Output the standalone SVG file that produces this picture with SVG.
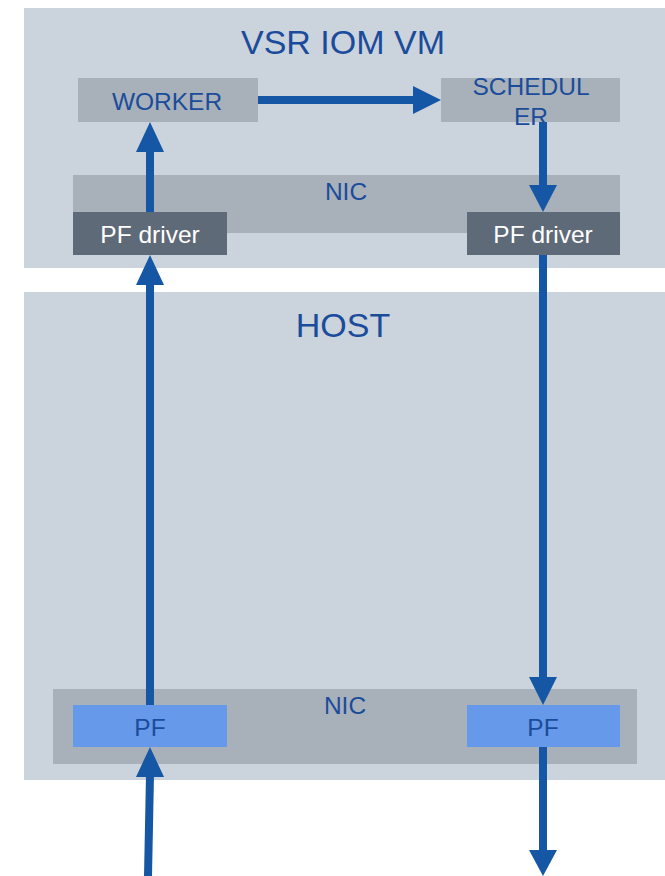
<svg xmlns="http://www.w3.org/2000/svg" width="665" height="876" viewBox="0 0 665 876">
<defs>
<style>
.bg{fill:#cbd3dc}
.box{fill:#a8b1ba}
.drv{fill:#5f6a78}
.pf{fill:#6699e9}
.t{font-family:"Liberation Sans",Arial,sans-serif;fill:#1b4c9b;text-anchor:middle;font-size:24.5px}
.big{font-size:34px}
.tw{font-family:"Liberation Sans",Arial,sans-serif;fill:#ffffff;text-anchor:middle;font-size:24.5px}
.c{stroke:#1557a4;stroke-width:8;fill:none}
.h{fill:#1557a4}
</style>
</defs>
<rect width="665" height="876" fill="#ffffff"/>
<g id="vm">
<rect class="bg" x="24" y="8" width="641" height="260"/>
<text class="t big" x="343" y="54">VSR IOM VM</text>
</g>
<g id="host">
<rect class="bg" x="24" y="292" width="641" height="488"/>
<text class="t big" x="343" y="337">HOST</text>
</g>
<g id="worker">
<rect class="box" x="78" y="78" width="180" height="44"/>
<text class="t" x="167" y="110">WORKER</text>
</g>
<g id="scheduler">
<rect class="box" x="441" y="78" width="179" height="44"/>
<text class="t" x="531" y="95">SCHEDUL</text>
<text class="t" x="531" y="125">ER</text>
</g>
<g id="nic-vm">
<rect class="box" x="73" y="175" width="547" height="58"/>
<text class="t" x="346" y="200">NIC</text>
</g>
<g id="pfdriver-left">
<rect class="drv" x="73" y="212" width="154" height="43"/>
<text class="tw" x="150" y="243">PF driver</text>
</g>
<g id="pfdriver-right">
<rect class="drv" x="467" y="212" width="153" height="43"/>
<text class="tw" x="543" y="243">PF driver</text>
</g>
<g id="nic-host">
<rect class="box" x="53" y="689" width="584" height="75"/>
<text class="t" x="345" y="714">NIC</text>
</g>
<g id="pf-left">
<rect class="pf" x="73" y="705" width="154" height="42"/>
<text class="t" x="150" y="736">PF</text>
</g>
<g id="pf-right">
<rect class="pf" x="467" y="705" width="153" height="42"/>
<text class="t" x="543" y="736">PF</text>
</g>
<g id="connectors">
<line class="c" x1="258" y1="100" x2="415" y2="100"/>
<polygon class="h" points="413,86 441,100 413,114"/>
<line class="c" x1="150" y1="212" x2="150" y2="150"/>
<polygon class="h" points="136,152 150,122 164,152"/>
<line class="c" x1="150" y1="705" x2="150" y2="283"/>
<polygon class="h" points="136,285 150,255 164,285"/>
<line class="c" x1="148" y1="876" x2="150" y2="775"/>
<polygon class="h" points="136,777 150,747 164,777"/>
<line class="c" x1="543" y1="122" x2="543" y2="187"/>
<polygon class="h" points="529,185 543,212 557,185"/>
<line class="c" x1="543" y1="255" x2="543" y2="679"/>
<polygon class="h" points="529,677 543,705 557,677"/>
<line class="c" x1="543" y1="747" x2="543" y2="852"/>
<polygon class="h" points="529,850 543,876 557,850"/>
</g>
</svg>
